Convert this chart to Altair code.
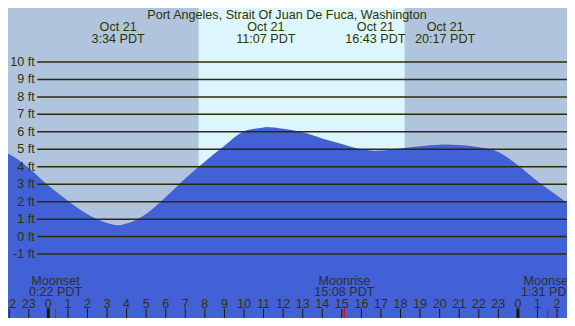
import altair as alt
import pandas as pd

# ---------------- data ----------------
title_text = "Port Angeles, Strait Of Juan De Fuca, Washington"

tide_hours = [-2.06, -2, -1, 0, 1, 2, 3, 3.57, 4, 5, 6, 7, 8, 9, 10, 11, 11.12,
              12, 13, 14, 15, 16, 16.72, 17, 18, 19, 20, 20.28, 21, 22, 23, 24,
              25, 26, 26.51]
tide_ft = [4.75, 4.72, 3.93, 2.93, 2.06, 1.28, 0.78, 0.65, 0.75, 1.3, 2.27, 3.33,
           4.3, 5.2, 6.03, 6.25, 6.27, 6.17, 5.97, 5.62, 5.3, 5.0, 4.92, 4.93,
           5.05, 5.18, 5.26, 5.27, 5.24, 5.12, 4.85, 4.08, 3.17, 2.35, 1.93]

event_hours = [3.567, 11.117, 16.717, 20.283]
event_dates = ["Oct 21", "Oct 21", "Oct 21", "Oct 21"]
event_times = ["3:34 PDT", "11:07 PDT", "16:43 PDT", "20:17 PDT"]

moon_hours = [0.367, 15.133, 25.517]
moon_names = ["Moonset", "Moonrise", "Moonset"]
moon_times = ["0:22 PDT", "15:08 PDT", "1:31 PDT"]

sun_rise, sun_set = 7.68, 18.21

ft_levels = [-1, 0, 1, 2, 3, 4, 5, 6, 7, 8, 9, 10]
hour_ticks = list(range(-2, 27))

# ---------------- layout ----------------
W, H = 559, 310
SX, SY = W / 575, H / 326
X_DOM = [-2.062, 26.509]
Y_DOM = [-4.66, 13.09]
FONT = "Liberation Sans"
FS = 12.6
TXT = "#333300"
BG = "#b0c4de"
DAY = "#ddf6fe"
WATER = "#4261d6"
GRID = "#2b2b08"

xs = alt.Scale(domain=X_DOM, nice=False, zero=False)
ys = alt.Scale(domain=Y_DOM, nice=False, zero=False)

tide_df = pd.DataFrame({"h": tide_hours, "ft": tide_ft})
ev_df = pd.DataFrame({"h": event_hours,
                      "lab": [d + "\n" + t for d, t in zip(event_dates, event_times)]})
moon_df = pd.DataFrame({"h": moon_hours,
                        "lab": [n + "\n" + t for n, t in zip(moon_names, moon_times)]})
grid_df = pd.DataFrame({"ft": ft_levels, "lab": [f"{v} ft" for v in ft_levels]})
hr_df = pd.DataFrame({"h": hour_ticks,
                      "lab": [str(h % 24) for h in hour_ticks],
                      "w": [3 if h % 24 == 0 else 1 for h in hour_ticks]})
sun_df = pd.DataFrame({"a": [sun_rise], "b": [sun_set]})

X = lambda f: alt.X(f, type="quantitative", scale=xs, axis=None)
Y = lambda f: alt.Y(f, type="quantitative", scale=ys, axis=None)

day = alt.Chart(sun_df).mark_rect(color=DAY).encode(
    x=X("a"), x2="b", y=alt.value(0), y2=alt.value(H))

area = alt.Chart(tide_df).mark_area(color=WATER, interpolate="monotone").encode(
    x=X("h"), y=Y("ft"), y2=alt.datum(Y_DOM[0]))

grid = alt.Chart(grid_df).mark_rule(color=GRID, strokeWidth=1.5).encode(
    y=Y("ft"), x=alt.value(30 * SX), x2=alt.value(W))

ylab = alt.Chart(grid_df).mark_text(
    align="right", baseline="middle", font=FONT, fontSize=FS, color=TXT).encode(
    y=Y("ft"), x=alt.value(27.5 * SX), text="lab:N")

title = alt.Chart(pd.DataFrame({"t": [title_text]})).mark_text(
    align="center", baseline="middle", font=FONT, fontSize=FS, color=TXT).encode(
    x=alt.value(287 * SX), y=alt.value(7 * SY), text="t:N")

ev = alt.Chart(ev_df).mark_text(
    align="center", baseline="middle", font=FONT, fontSize=FS, color=TXT,
    lineBreak="\n", lineHeight=12.5 * SY).encode(
    x=X("h"), y=alt.value(20 * SY), text="lab:N")

moon = alt.Chart(moon_df).mark_text(
    align="center", baseline="middle", font=FONT, fontSize=FS, color="#2e2e2e",
    lineBreak="\n", lineHeight=11.3 * SY).encode(
    x=X("h"), y=alt.value(287 * SY), text="lab:N")

hlab = alt.Chart(hr_df).mark_text(
    align="center", baseline="middle", font=FONT, fontSize=FS, color=TXT).encode(
    x=X("h"), y=alt.value(311 * SY), text="lab:N")

ticks = alt.Chart(hr_df).mark_rule(color="#1a1a00").encode(
    x=X("h"), y=alt.value(316 * SY), y2=alt.value(H),
    strokeWidth=alt.StrokeWidth("w:Q", scale=None, legend=None))

mticks = alt.Chart(moon_df).mark_rule(color="#ff0000", strokeWidth=1.2).encode(
    x=X("h"), y=alt.value(316 * SY), y2=alt.value(H))

chart = alt.layer(day, area, grid, ylab, title, ev, moon,
                  hlab, ticks, mticks).properties(
    width=W, height=H, background=BG, padding=0,
    autosize=alt.AutoSizeParams(type="none"),
).configure_view(stroke=None)

chart.save("out.html", embed_options={"renderer": "svg", "actions": False})
